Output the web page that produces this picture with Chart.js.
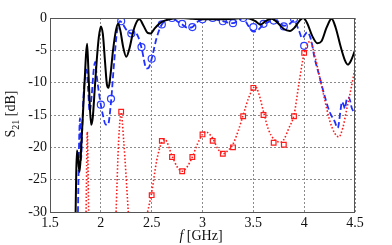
<!DOCTYPE html>
<html><head><meta charset="utf-8">
<script src="https://cdn.jsdelivr.net/npm/chart.js@4"></script>
<style>html,body{margin:0;padding:0;background:#fff}#c{display:block}</style>
</head><body>
<div style="width:392px;height:245px"><canvas id="c" width="392" height="245"></canvas></div>
<script>
const xTicks = [1.5, 2, 2.5, 3, 3.5, 4, 4.5];
const yTicks = [-30, -25, -20, -15, -10, -5, 0];

const blackF = [1.752,1.758,1.765,1.775,1.79,1.80,1.82,1.84,1.855,1.865,1.875,1.89,1.905,1.92,1.94,1.96,1.98,2.0,2.02,2.04,2.06,2.075,2.09,2.12,2.15,2.17,2.19,2.22,2.25,2.28,2.32,2.36,2.38,2.42,2.46,2.49,2.53,2.58,2.63,2.7,2.8,2.9,3.0,3.1,3.2,3.3,3.4,3.46,3.52,3.57,3.62,3.68,3.73,3.8,3.86,3.91,3.96,3.99,4.03,4.08,4.13,4.17,4.22,4.27,4.31,4.36,4.4,4.43,4.46,4.5];
const blackS = [-30,-24,-20.5,-21.5,-23.8,-22,-16,-10,-5.5,-4,-7,-13,-16.5,-15.5,-11,-6.5,-3,-1.3,-2.5,-6.5,-10.3,-10.8,-9.5,-5,-1.8,-0.9,-1.8,-4.5,-6,-4.8,-2,-0.4,-0.2,-1.2,-2.3,-2.4,-1.6,-0.8,-0.4,-0.1,0,-0.1,-0.2,-0.2,-0.2,-0.1,0,-0.1,-0.5,-1.0,-0.5,-0.1,-0.6,-1.7,-2.0,-1.4,-0.3,0,-0.8,-2.8,-3.9,-3.6,-1.5,-0.1,-1.5,-4.5,-6.5,-7.2,-6.6,-5.0];

const blueF = [1.775,1.785,1.795,1.805,1.815,1.83,1.85,1.86,1.875,1.89,1.91,1.93,1.945,1.96,1.99,2.02,2.05,2.07,2.1,2.13,2.16,2.19,2.21,2.25,2.3,2.33,2.37,2.4,2.45,2.47,2.5,2.55,2.6,2.65,2.7,2.75,2.8,2.85,2.9,2.95,3.0,3.05,3.1,3.15,3.2,3.25,3.3,3.35,3.4,3.45,3.5,3.55,3.6,3.65,3.7,3.75,3.8,3.85,3.9,3.95,3.98,4.03,4.07,4.1,4.15,4.2,4.25,4.3,4.33,4.36,4.37,4.39,4.4,4.42,4.44,4.47,4.5];
const blueS = [-30,-20,-15.5,-22,-18,-12,-8.5,-8,-11,-14.5,-12,-8,-6.8,-9,-12.5,-15,-16.5,-16.5,-13,-7,-2,-0.5,-0.8,-1.8,-2.4,-2.2,-3,-4.6,-7.8,-7.7,-6.3,-3,-1.0,-0.3,0,-0.5,-1,-1.5,-1.4,-0.6,-0.2,-0.1,0,-0.3,-0.5,-0.7,-0.8,-0.4,0,-1.2,-2.1,-1.8,-1.0,-0.6,-0.3,-0.6,-1.2,-1.0,-0.4,-2,-3.1,-2.2,-3.5,-6,-9,-12,-14.5,-16,-17,-14,-13,-13.5,-14,-12.5,-12.3,-14,-14.7];
const blueMarkF = [2.0,2.1,2.2,2.3,2.4,2.5,2.6,2.7,2.8,2.9,3.0,3.1,3.2,3.3,3.4,3.5,3.6,3.7,3.8,3.9,4.0];
const blueMarkS = [-13.4,-12.5,-0.5,-2.4,-4.5,-6.3,-1.0,0,-0.9,-1.4,-0.2,0,-0.5,-0.8,0,-1.4,-0.9,-0.4,-1.3,-0.1,-4.3];

const redF = [1.855,1.867,1.88, null, 2.15,2.175,2.2,2.225,2.27, null, 2.46,2.5,2.55,2.6,2.63,2.7,2.75,2.8,2.85,2.9,2.95,3.0,3.03,3.1,3.15,3.2,3.25,3.3,3.35,3.4,3.45,3.5,3.52,3.55,3.6,3.65,3.7,3.77,3.8,3.85,3.9,3.95,4.0,4.06,4.1,4.15,4.2,4.25,4.3,4.34,4.38,4.42,4.46,4.5];
const redS = [-30,-17.6,-30, null, -30,-19,-14.8,-19,-30, null, -30,-27,-22,-19.2,-18.8,-21.3,-23,-23.7,-23,-21.5,-19.5,-18,-17.6,-18.6,-20.2,-21,-20.5,-19.5,-17.5,-15,-12.5,-10.8,-10.6,-11.5,-14.5,-17.3,-18.7,-19.2,-18.8,-17,-15,-10,-5.5,-3.6,-5.5,-9,-12.5,-15.8,-17.8,-18.4,-17,-14,-11,-7.8];
const redMarkF = [2.2,2.5,2.6,2.7,2.8,2.9,3.0,3.1,3.2,3.3,3.4,3.5,3.6,3.7,3.8,3.9,4.0];
const redMarkS = [-14.5,-27.4,-19,-21.5,-23.7,-21.5,-18,-19,-21,-20,-15.2,-10.8,-15,-19.3,-19.6,-15.2,-5.4];

const pts = (fs, ss) => fs.map((f, i) => f === null ? {x: null, y: null} : {x: f, y: ss[i]});
const SERIF = '"Liberation Serif","Times New Roman",serif';

const boxPlugin = {
  id: 'box',
  afterDraw(chart) {
    const {ctx, chartArea: a} = chart;
    ctx.save();
    ctx.strokeStyle = '#555';
    ctx.lineWidth = 1;
    ctx.strokeRect(a.left + 0.5, a.top + 0.5, a.right - a.left - 1, a.bottom - a.top);
    ctx.fillStyle = '#111';
    ctx.textBaseline = 'alphabetic';
    ctx.font = 'italic 14px ' + SERIF;
    const w1 = ctx.measureText('f').width;
    ctx.font = '14px ' + SERIF;
    const w2 = ctx.measureText(' [GHz]').width;
    let x0 = 201 - (w1 + w2) / 2;
    ctx.font = 'italic 14px ' + SERIF;
    ctx.fillText('f', x0, 240);
    ctx.font = '14px ' + SERIF;
    ctx.fillText(' [GHz]', x0 + w1, 240);
    ctx.translate(15, 114);
    ctx.rotate(-Math.PI / 2);
    ctx.font = '14px ' + SERIF;
    const sW = ctx.measureText('S').width;
    ctx.font = '10px ' + SERIF;
    const subW = ctx.measureText('21').width;
    ctx.font = '14px ' + SERIF;
    const dbW = ctx.measureText(' [dB]').width;
    let sx = -(sW + subW + dbW) / 2;
    ctx.fillText('S', sx, 0);
    ctx.font = '10px ' + SERIF;
    ctx.fillText('21', sx + sW, 4);
    ctx.font = '14px ' + SERIF;
    ctx.fillText(' [dB]', sx + sW + subW, 0);
    ctx.restore();
  }
};

new Chart(document.getElementById('c'), {
  type: 'line',
  data: {
    datasets: [
      {data: pts(blackF, blackS), borderColor: '#000', borderWidth: 2, pointRadius: 0, cubicInterpolationMode: 'monotone', spanGaps: false},
      {data: pts(redF, redS), borderColor: '#ff1a1a', borderWidth: 1.6, borderDash: [1.5, 2], pointRadius: 0, cubicInterpolationMode: 'monotone', spanGaps: false},
      {data: pts(redMarkF, redMarkS), showLine: false, pointStyle: 'rect', pointRadius: 3.3, pointBorderColor: '#ff1a1a', pointBackgroundColor: '#fff', pointBorderWidth: 1.2},
      {data: pts(blueF, blueS), borderColor: '#1f2fff', borderWidth: 1.8, borderDash: [6, 3], pointRadius: 0, cubicInterpolationMode: 'monotone'},
      {data: pts(blueMarkF, blueMarkS), showLine: false, pointStyle: 'circle', pointRadius: 3.5, pointBorderColor: '#2a3cff', pointBackgroundColor: '#fff', pointBorderWidth: 1.2}
    ]
  },
  options: {
    responsive: false,
    animation: false,
    devicePixelRatio: 1,
    layout: {padding: {top: 18, right: 37, left: 0, bottom: 0}},
    plugins: {legend: {display: false}, tooltip: {enabled: false}},
    scales: {
      x: {
        type: 'linear', min: 1.5, max: 4.5,
        afterBuildTicks: s => { s.ticks = xTicks.map(v => ({value: v})); },
        afterFit: s => { s.height = 33; },
        ticks: {font: {family: SERIF, size: 14}, color: '#111', padding: 3, maxRotation: 0,
          callback: v => String(v)},
        grid: {color: '#8a8a8a', lineWidth: 1, drawTicks: false},
        border: {display: false, dash: [2, 2]}
      },
      y: {
        type: 'linear', min: -30, max: 0,
        afterBuildTicks: s => { s.ticks = yTicks.map(v => ({value: v})); },
        afterFit: s => { s.width = 50; },
        ticks: {font: {family: SERIF, size: 14}, color: '#111', padding: 3,
          callback: v => String(v)},
        grid: {color: '#8a8a8a', lineWidth: 1, drawTicks: false},
        border: {display: false, dash: [2, 2]}
      }
    }
  },
  plugins: [boxPlugin]
});
</script>
</body></html>
